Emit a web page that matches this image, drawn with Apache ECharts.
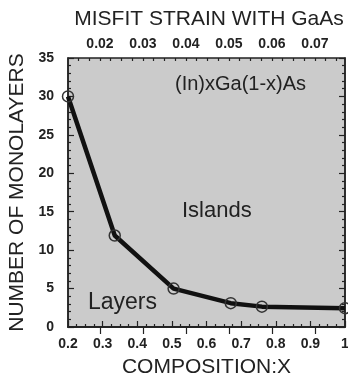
<!DOCTYPE html>
<html><head><meta charset="utf-8">
<script src="https://cdn.jsdelivr.net/npm/echarts@6/dist/echarts.min.js"></script>
<style>html,body{margin:0;padding:0;background:#fff}#c{width:348px;height:378px}</style>
</head><body><div id="c"></div>
<script>
const composition = [0.2, 0.335, 0.505, 0.67, 0.76, 1.0];
const monolayers = [30, 11.9, 5.0, 3.1, 2.65, 2.45];
const strainTicks = [0.02, 0.03, 0.04, 0.05, 0.06, 0.07];
const strainMinor = [];
for (let i = 0; i < 28; i++) strainMinor.push(+(0.0125 + i * 0.0025).toFixed(4));
const strainRange = [0.01256, 0.07698];

const F = 'Liberation Sans, Arial, sans-serif';
const chart = echarts.init(document.getElementById('c'));
const tickStyle = {color: '#222', width: 1.2};
const lab = {fontFamily: F, fontSize: 14, fontWeight: 'bold', color: '#222'};
chart.setOption({
  animation: false,
  backgroundColor: '#fff',
  title: {
    text: 'MISFIT STRAIN WITH GaAs', left: 204, top: 4, textAlign: 'center',
    textStyle: {fontFamily: F, fontSize: 21, fontWeight: 'normal', color: '#222'}
  },
  grid: {left: 68, right: 3, top: 58, bottom: 51, show: true, containLabel: false,
    outerBoundsMode: 'none',
    backgroundColor: '#cbcbcb', borderColor: '#222', borderWidth: 1.5},
  xAxis: [
    {type: 'value', min: 0.2, max: 1.0, interval: 0.1, position: 'bottom',
     name: 'COMPOSITION:X', nameLocation: 'middle', nameGap: 30,
     nameTextStyle: {fontFamily: F, fontSize: 21, color: '#222'},
     axisLine: {show: true, lineStyle: {color: '#222', width: 1.5}},
     axisTick: {inside: true, length: 6, lineStyle: tickStyle},
     minorTick: {show: true, splitNumber: 4, length: 3, lineStyle: tickStyle},
     splitLine: {show: false},
     axisLabel: Object.assign({margin: 10,
       formatter: v => (Math.abs(v - 1) < 1e-9 ? '1' : v.toFixed(1))}, lab)},
    {type: 'value', min: strainRange[0], max: strainRange[1], position: 'top',
     axisLine: {show: true, lineStyle: {color: '#222', width: 1.5}},
     axisTick: {inside: true, length: 7, lineStyle: tickStyle, customValues: strainTicks},
     splitLine: {show: false},
     axisLabel: Object.assign({margin: 7, customValues: strainTicks, formatter: v => v.toFixed(2)}, lab)},
    {type: 'value', min: strainRange[0], max: strainRange[1], position: 'top',
     axisLine: {show: false},
     axisTick: {inside: true, length: 3, lineStyle: tickStyle, customValues: strainMinor},
     splitLine: {show: false},
     axisLabel: {show: false}}
  ],
  yAxis: [
    {type: 'value', min: 0, max: 35, interval: 5, position: 'left',
     name: 'NUMBER OF MONOLAYERS', nameLocation: 'middle', nameGap: 31,
     nameTextStyle: {fontFamily: F, fontSize: 21, color: '#222'},
     axisLine: {show: true, lineStyle: {color: '#222', width: 1.5}},
     axisTick: {inside: true, length: 6, lineStyle: tickStyle},
     minorTick: {show: true, splitNumber: 5, length: 3, lineStyle: tickStyle},
     splitLine: {show: false},
     axisLabel: Object.assign({margin: 14}, lab)},
    {type: 'value', min: 0, max: 35, interval: 5, position: 'right',
     axisLine: {show: true, lineStyle: {color: '#222', width: 1.5}},
     axisTick: {inside: true, length: 6, lineStyle: tickStyle},
     minorTick: {show: true, splitNumber: 5, length: 3, lineStyle: tickStyle},
     splitLine: {show: false},
     axisLabel: {show: false}}
  ],
  series: [{
    type: 'line', xAxisIndex: 0, yAxisIndex: 0,
    data: composition.map((x, i) => [x, monolayers[i]]),
    lineStyle: {color: '#111', width: 4.5},
    symbol: 'circle', symbolSize: 11,
    itemStyle: {color: 'rgba(0,0,0,0)', borderColor: '#333', borderWidth: 1.5},
    clip: false, z: 3
  }],
  graphic: [
    {type: 'text', left: 175, top: 74, style: {text: '(In)xGa(1-x)As', font: '20px ' + F, fill: '#222'}},
    {type: 'text', left: 182, top: 200, style: {text: 'Islands', font: '22px ' + F, fill: '#222'}},
    {type: 'text', left: 88, top: 291, style: {text: 'Layers', font: '23px ' + F, fill: '#222'}}
  ]
});
</script></body></html>
